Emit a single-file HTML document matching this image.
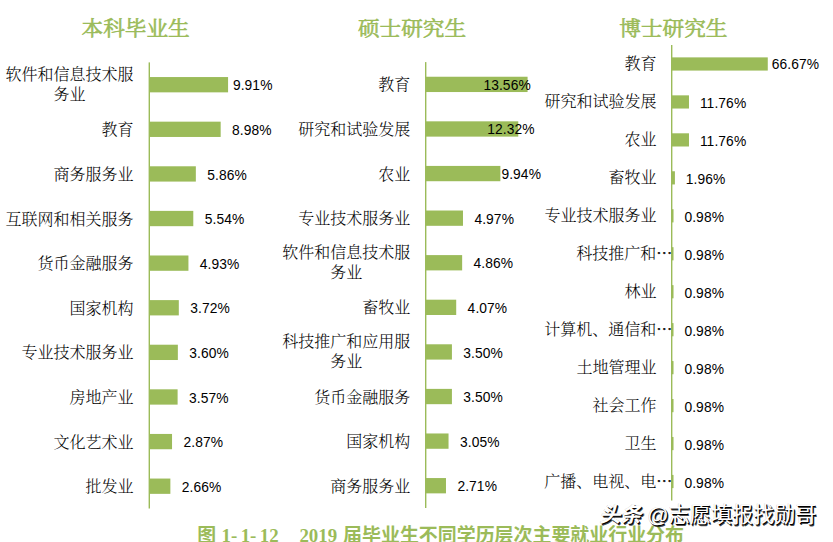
<!DOCTYPE html>
<html lang="zh-CN"><head><meta charset="utf-8"><title>2019届毕业生不同学历层次主要就业行业分布</title>
<style>
html,body{margin:0;padding:0;background:#fff;}
body{width:833px;height:542px;position:relative;overflow:hidden;font-family:"Liberation Sans","Noto Sans CJK SC",sans-serif;}
.t{position:absolute;white-space:nowrap;font-family:"Liberation Serif","Noto Serif CJK SC",serif;font-weight:400;-webkit-text-stroke:0.6px #9bbb59;font-size:21.65px;line-height:24px;color:#9bbb59;transform:translate(-50%,-50%) scaleY(0.955);}
.g{position:absolute;left:0;top:0;}
.l{position:absolute;white-space:nowrap;text-align:center;font-family:"Liberation Serif","Noto Serif CJK SC",serif;font-weight:300;font-size:16px;line-height:20.5px;color:#000;transform:translate(-100%,-50%) scaleY(0.96);}
.e{font-family:"Noto Serif CJK SC",serif;font-weight:700;-webkit-text-stroke:0.5px #000;}
.v{position:absolute;white-space:nowrap;font-family:"Liberation Sans",sans-serif;font-size:13.8px;letter-spacing:0.1px;line-height:16px;color:#000;transform:translate(0,-50%);}
.cap{position:absolute;top:523.2px;white-space:pre;font-family:"Liberation Serif","Noto Sans CJK SC",serif;font-weight:700;font-size:18.9px;line-height:26px;color:#9bbb59;}
.wm{position:absolute;left:599.3px;top:499.9px;white-space:nowrap;font-family:"Liberation Sans","Noto Sans CJK SC",sans-serif;font-size:21.1px;line-height:30px;color:#fff;text-shadow:1px 1px 0 #000,1.5px 1.5px 0.4px rgba(0,0,0,.7),-0.5px -0.5px 0.5px rgba(0,0,0,.2);}
.wm i{font-weight:700;font-style:italic;}
</style></head><body>

<svg class="g" width="833" height="542" viewBox="0 0 833 542" fill="#9bbb59"><rect x="148.60" y="62.40" width="1.4" height="446.10"/><rect x="149.30" y="77.05" width="78.77" height="15.30"/><rect x="149.30" y="121.66" width="71.37" height="15.30"/><rect x="149.30" y="166.28" width="46.54" height="15.30"/><rect x="149.30" y="210.88" width="43.99" height="15.30"/><rect x="149.30" y="255.49" width="39.14" height="15.30"/><rect x="149.30" y="300.11" width="29.51" height="15.30"/><rect x="149.30" y="344.71" width="28.55" height="15.30"/><rect x="149.30" y="389.32" width="28.31" height="15.30"/><rect x="149.30" y="433.94" width="22.74" height="15.30"/><rect x="149.30" y="478.55" width="21.07" height="15.30"/><rect x="425.00" y="62.10" width="1.4" height="445.90"/><rect x="425.70" y="76.74" width="101.88" height="15.30"/><rect x="425.70" y="121.33" width="92.56" height="15.30"/><rect x="425.70" y="165.92" width="74.66" height="15.30"/><rect x="425.70" y="210.51" width="37.28" height="15.30"/><rect x="425.70" y="255.10" width="36.45" height="15.30"/><rect x="425.70" y="299.69" width="30.51" height="15.30"/><rect x="425.70" y="344.29" width="26.22" height="15.30"/><rect x="425.70" y="388.88" width="26.22" height="15.30"/><rect x="425.70" y="433.47" width="22.84" height="15.30"/><rect x="425.70" y="478.06" width="20.28" height="15.30"/><rect x="671.00" y="45.00" width="1.4" height="455.50"/><rect x="671.70" y="57.38" width="96.07" height="13.20"/><rect x="671.70" y="95.34" width="17.28" height="13.20"/><rect x="671.70" y="133.30" width="17.28" height="13.20"/><rect x="671.70" y="171.25" width="3.21" height="13.20"/><rect x="671.70" y="209.21" width="1.81" height="13.20"/><rect x="671.70" y="247.17" width="1.81" height="13.20"/><rect x="671.70" y="285.13" width="1.81" height="13.20"/><rect x="671.70" y="323.09" width="1.81" height="13.20"/><rect x="671.70" y="361.05" width="1.81" height="13.20"/><rect x="671.70" y="399.00" width="1.81" height="13.20"/><rect x="671.70" y="436.96" width="1.81" height="13.20"/><rect x="671.70" y="474.92" width="1.81" height="13.20"/></svg>
<div class="t" style="left:135.6px;top:29.1px">本科毕业生</div>
<div class="l" style="left:133.60px;top:84.70px">软件和信息技术服<br>务业</div>
<div class="v" style="left:232.90px;top:86.40px">9.91%</div>
<div class="l" style="left:133.60px;top:130.31px">教育</div>
<div class="v" style="left:232.07px;top:131.01px">8.98%</div>
<div class="l" style="left:133.60px;top:174.93px">商务服务业</div>
<div class="v" style="left:207.24px;top:175.62px">5.86%</div>
<div class="l" style="left:133.60px;top:219.53px">互联网和相关服务</div>
<div class="v" style="left:204.69px;top:220.23px">5.54%</div>
<div class="l" style="left:133.60px;top:264.14px">货币金融服务</div>
<div class="v" style="left:199.84px;top:264.85px">4.93%</div>
<div class="l" style="left:133.60px;top:308.75px">国家机构</div>
<div class="v" style="left:190.21px;top:309.46px">3.72%</div>
<div class="l" style="left:133.60px;top:353.36px">专业技术服务业</div>
<div class="v" style="left:189.25px;top:354.06px">3.60%</div>
<div class="l" style="left:133.60px;top:397.97px">房地产业</div>
<div class="v" style="left:189.01px;top:398.68px">3.57%</div>
<div class="l" style="left:133.60px;top:442.58px">文化艺术业</div>
<div class="v" style="left:183.44px;top:443.29px">2.87%</div>
<div class="l" style="left:133.60px;top:487.19px">批发业</div>
<div class="v" style="left:181.77px;top:487.90px">2.66%</div>
<div class="t" style="left:412px;top:29.1px">硕士研究生</div>
<div class="l" style="left:410.30px;top:85.39px">教育</div>
<div class="v" style="left:483.40px;top:86.09px">13.56%</div>
<div class="l" style="left:410.30px;top:129.98px">研究和试验发展</div>
<div class="v" style="left:487.20px;top:129.68px">12.32%</div>
<div class="l" style="left:410.30px;top:174.57px">农业</div>
<div class="v" style="left:501.40px;top:175.27px">9.94%</div>
<div class="l" style="left:410.30px;top:219.16px">专业技术服务业</div>
<div class="v" style="left:474.38px;top:219.86px">4.97%</div>
<div class="l" style="left:410.30px;top:262.75px">软件和信息技术服<br>务业</div>
<div class="v" style="left:473.55px;top:264.46px">4.86%</div>
<div class="l" style="left:410.30px;top:308.34px">畜牧业</div>
<div class="v" style="left:467.61px;top:309.05px">4.07%</div>
<div class="l" style="left:410.30px;top:351.94px">科技推广和应用服<br>务业</div>
<div class="v" style="left:463.32px;top:353.64px">3.50%</div>
<div class="l" style="left:410.30px;top:397.52px">货币金融服务</div>
<div class="v" style="left:463.32px;top:398.23px">3.50%</div>
<div class="l" style="left:410.30px;top:442.12px">国家机构</div>
<div class="v" style="left:459.94px;top:442.82px">3.05%</div>
<div class="l" style="left:410.30px;top:486.70px">商务服务业</div>
<div class="v" style="left:457.38px;top:487.41px">2.71%</div>
<div class="t" style="left:673.4px;top:29.1px">博士研究生</div>
<div class="l" style="left:656.40px;top:64.38px">教育</div>
<div class="v" style="left:771.80px;top:65.08px">66.67%</div>
<div class="l" style="left:656.40px;top:102.34px">研究和试验发展</div>
<div class="v" style="left:699.88px;top:104.04px">11.76%</div>
<div class="l" style="left:656.40px;top:140.30px">农业</div>
<div class="v" style="left:699.88px;top:142.00px">11.76%</div>
<div class="l" style="left:656.40px;top:178.25px">畜牧业</div>
<div class="v" style="left:685.81px;top:179.95px">1.96%</div>
<div class="l" style="left:656.40px;top:216.21px">专业技术服务业</div>
<div class="v" style="left:684.41px;top:217.91px">0.98%</div>
<div class="l" style="left:672.20px;top:254.17px">科技推广和<span class="e">…</span></div>
<div class="v" style="left:684.41px;top:255.87px">0.98%</div>
<div class="l" style="left:656.40px;top:292.13px">林业</div>
<div class="v" style="left:684.41px;top:293.83px">0.98%</div>
<div class="l" style="left:672.20px;top:330.09px">计算机、通信和<span class="e">…</span></div>
<div class="v" style="left:684.41px;top:331.79px">0.98%</div>
<div class="l" style="left:656.40px;top:368.05px">土地管理业</div>
<div class="v" style="left:684.41px;top:369.75px">0.98%</div>
<div class="l" style="left:656.40px;top:406.00px">社会工作</div>
<div class="v" style="left:684.41px;top:407.70px">0.98%</div>
<div class="l" style="left:656.40px;top:443.96px">卫生</div>
<div class="v" style="left:684.41px;top:445.66px">0.98%</div>
<div class="l" style="left:672.20px;top:481.92px">广播、电视、电<span class="e">…</span></div>
<div class="v" style="left:684.41px;top:483.62px">0.98%</div>
<div class="cap" style="left:197.2px">图</div>
<div class="cap" style="left:221.6px;word-spacing:-1.4px">1- 1- 12</div>
<div class="cap" style="left:299.4px">2019</div>
<div class="cap" style="left:343.1px;font-size:18.96px">届毕业生不同学历层次主要就业行业分布</div>
<div class="wm"><i>头条</i> @志愿填报找勋哥</div>
</body></html>
